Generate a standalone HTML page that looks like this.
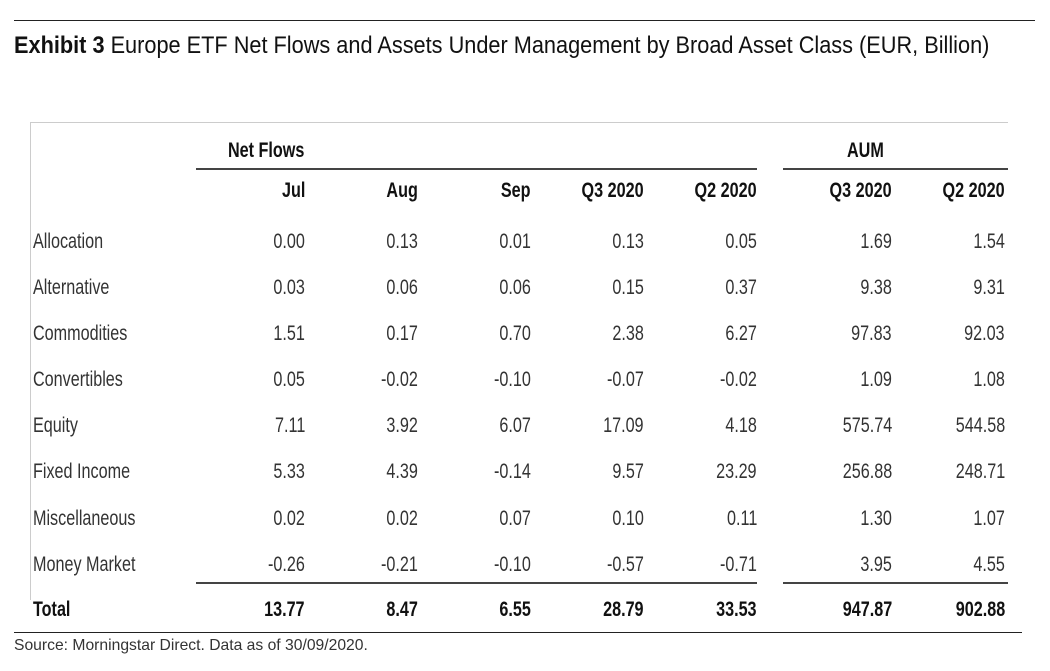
<!DOCTYPE html>
<html><head><meta charset="utf-8"><style>
body{margin:0;width:1050px;height:671px;background:#fff;position:relative;overflow:hidden;font-family:"Liberation Sans",sans-serif;color:#333}
.a{position:absolute;white-space:nowrap;line-height:1}
.r{transform-origin:right center}
.l{transform-origin:left center}
.n{font-size:21px;transform:scaleX(0.77)}
.b{font-weight:bold;color:#111}
.ln{position:absolute;height:0}
</style></head><body>
<div class="ln" style="left:14px;top:20px;width:1021px;border-top:1px solid #222"></div>
<div class="a l" style="left:14px;top:34px;font-size:24px;transform:scaleX(0.905);color:#111"><b>Exhibit 3</b> Europe ETF Net Flows and Assets Under Management by Broad Asset Class (EUR, Billion)</div>
<div class="ln" style="left:30px;top:122px;width:978px;border-top:1px solid #ccc"></div>
<div style="position:absolute;left:30px;top:122px;height:478px;border-left:1px solid #ccc"></div>
<div class="a l n b" style="left:228px;top:140px">Net Flows</div>
<div class="a l n b" style="left:847px;top:140px">AUM</div>
<div class="ln" style="left:196px;top:168px;width:561px;border-top:2px solid #444"></div>
<div class="ln" style="left:783px;top:168px;width:225px;border-top:2px solid #444"></div>
<div class="ln" style="left:196px;top:582px;width:561px;border-top:2px solid #444"></div>
<div class="ln" style="left:783px;top:582px;width:225px;border-top:2px solid #444"></div>
<div class="ln" style="left:14px;top:632px;width:1008px;border-top:1px solid #222"></div>
<div class="a l" style="left:14px;top:638px;font-size:16px;transform:scaleX(0.98);color:#333">Source: Morningstar Direct. Data as of 30/09/2020.</div>
<div id="t"></div>
<script>
var cols=[305,418,531,644,757,892,1005];
var rows=[["","Jul","Aug","Sep","Q3 2020","Q2 2020","Q3 2020","Q2 2020"],
["Allocation","0.00","0.13","0.01","0.13","0.05","1.69","1.54"],
["Alternative","0.03","0.06","0.06","0.15","0.37","9.38","9.31"],
["Commodities","1.51","0.17","0.70","2.38","6.27","97.83","92.03"],
["Convertibles","0.05","-0.02","-0.10","-0.07","-0.02","1.09","1.08"],
["Equity","7.11","3.92","6.07","17.09","4.18","575.74","544.58"],
["Fixed Income","5.33","4.39","-0.14","9.57","23.29","256.88","248.71"],
["Miscellaneous","0.02","0.02","0.07","0.10","0.11","1.30","1.07"],
["Money Market","-0.26","-0.21","-0.10","-0.57","-0.71","3.95","4.55"],
["Total","13.77","8.47","6.55","28.79","33.53","947.87","902.88"]];
var ys=[191,242,288,334,380,426,472,519,565,610];
var h="";
rows.forEach(function(r,i){var bold=(i==0||i==9)?" b":"";var y=ys[i]-11;
h+='<div class="a l n'+bold+'" style="left:33px;top:'+y+'px">'+r[0]+'</div>';
for(var c=1;c<8;c++)h+='<div class="a r n'+bold+'" style="right:'+(1050-cols[c-1])+'px;top:'+y+'px">'+r[c]+'</div>';});
document.getElementById("t").innerHTML=h;
</script>
</body></html>
